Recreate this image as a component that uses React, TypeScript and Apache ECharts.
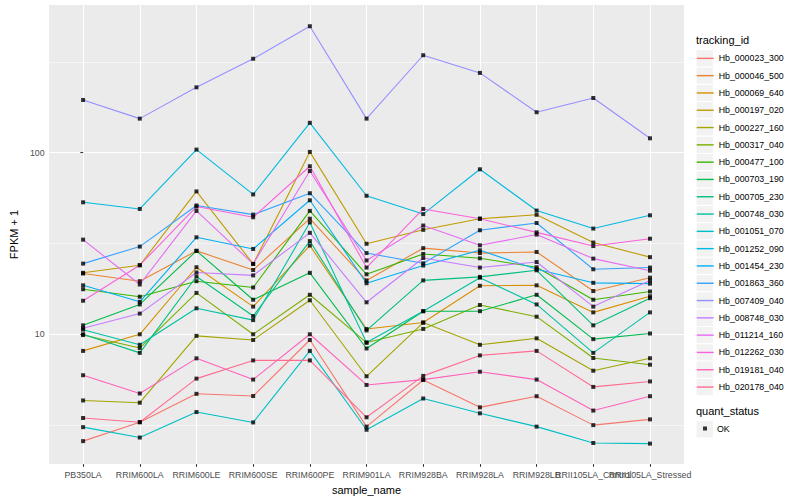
import React, { useEffect, useRef } from "react";
import * as echarts from "echarts";

const categories = [
  "PB350LA",
  "RRIM600LA",
  "RRIM600LE",
  "RRIM600SE",
  "RRIM600PE",
  "RRIM901LA",
  "RRIM928BA",
  "RRIM928LA",
  "RRIM928LB",
  "RRII105LA_Control",
  "RRII105LA_Stressed",
];

const seriesNames = [
  "Hb_000023_300",
  "Hb_000046_500",
  "Hb_000069_640",
  "Hb_000197_020",
  "Hb_000227_160",
  "Hb_000317_040",
  "Hb_000477_100",
  "Hb_000703_190",
  "Hb_000705_230",
  "Hb_000748_030",
  "Hb_001051_070",
  "Hb_001252_090",
  "Hb_001454_230",
  "Hb_001863_360",
  "Hb_007409_040",
  "Hb_008748_030",
  "Hb_011214_160",
  "Hb_012262_030",
  "Hb_019181_040",
  "Hb_020178_040",
];

const seriesColors = [
  "#F8766D", "#EA8331", "#D89000", "#C09B00", "#A3A500",
  "#7CAE00", "#39B600", "#00BB4E", "#00BF7D", "#00C1A3",
  "#00BFC4", "#00BAE0", "#00B0F6", "#35A2FF", "#9590FF",
  "#C77CFF", "#E76BF3", "#FA62DB", "#FF62BC", "#FF6C91",
];

// FPKM + 1 values, one array per tracking_id, in category order
const hb000023_300 = [2.58, 3.28, 4.7, 4.57, 9.3, 3.1, 5.6, 3.96, 4.56, 3.16, 3.4];
const hb000046_500 = [21.6, 19.6, 28.8, 22.6, 43.3, 19.8, 29.8, 28, 28.4, 17.3, 20.5];
const hb000069_640 = [8.1, 10.0, 23.4, 14.2, 30.8, 10.7, 11.6, 18.5, 18.6, 13.2, 16.2];
const hb000197_020 = [21.8, 24.0, 61.2, 24.4, 101, 31.5, 37.6, 43.3, 45.5, 32, 26.6];
const hb000227_160 = [4.32, 4.2, 9.8, 9.3, 15.4, 5.87, 11.6, 8.75, 9.5, 6.3, 7.38];
const hb000317_040 = [9.9, 8.4, 16.9, 10.0, 16.5, 9.0, 10.7, 14.5, 12.5, 7.4, 6.8];
const hb000477_100 = [17.7, 16.1, 19.6, 18.1, 47.8, 21.4, 27.7, 26.2, 23.4, 15.5, 17.2];
const hb000703_190 = [11.2, 14.6, 28.8, 15.5, 21.8, 8.35, 13.4, 13.4, 16.5, 9.4, 10.1];
const hb000705_230 = [10.0, 7.9, 20.8, 12.6, 32.6, 10.5, 19.8, 20.7, 22.5, 11.2, 15.8];
const hb000748_030 = [10.6, 8.75, 13.9, 11.97, 41.3, 9.0, 13.4, 20.5, 14.6, 7.9, 13.2];
const hb001051_070 = [3.08, 2.7, 3.73, 3.27, 8.1, 2.98, 4.43, 3.67, 3.1, 2.52, 2.5];
const hb001252_090 = [53.3, 49, 104, 58.9, 146, 57.9, 45.9, 81, 48, 38.2, 45.2];
const hb001454_230 = [18.6, 15.1, 34.2, 29.5, 54.7, 19.1, 23.9, 29, 22.8, 19.2, 19.0];
const hb001863_360 = [24.5, 30.4, 51.2, 45.6, 59.8, 28.0, 24.6, 37.4, 41, 22.8, 23.3];
const hb007409_040 = [195, 154, 229, 329, 497, 154, 344, 275, 167, 200, 120];
const hb008748_030 = [10.8, 13.0, 21.9, 21.1, 36.2, 15.0, 26.3, 23.3, 25, 14.2, 19.8];
const hb011214_160 = [33.2, 18.8, 47.8, 24.4, 79.3, 25.5, 39.7, 30.9, 35.4, 26.1, 22.4];
const hb012262_030 = [15.3, 24.0, 50.5, 44.1, 84.2, 23.3, 49, 43.3, 36.4, 30.6, 33.6];
const hb019181_040 = [5.95, 4.72, 7.37, 5.63, 10.0, 5.26, 5.63, 6.22, 5.63, 3.8, 4.56];
const hb020178_040 = [3.46, 3.28, 5.7, 7.18, 7.18, 3.49, 5.9, 7.65, 8.1, 5.13, 5.5];

const seriesValues = [
  hb000023_300, hb000046_500, hb000069_640, hb000197_020, hb000227_160,
  hb000317_040, hb000477_100, hb000703_190, hb000705_230, hb000748_030,
  hb001051_070, hb001252_090, hb001454_230, hb001863_360, hb007409_040,
  hb008748_030, hb011214_160, hb012262_030, hb019181_040, hb020178_040,
];

const yMajorTicks = [10, 100];
const yMinorBreaks = [3.1623, 31.623, 316.23];
const yRange = [1.928, 650.5];
const quantStatus = ["OK"];

const FONT = '"Liberation Sans", Arial, Helvetica, sans-serif';

export default function App() {
  const ref = useRef<HTMLDivElement>(null);
  useEffect(() => {
    const chart = echarts.init(ref.current!, null, { renderer: "svg" });
    const lg = (v: number) => Math.log10(v);
    const catIdx = categories.map((_, i) => i);
    // labels split over two axes so overlapping neighbours are both kept, as in the reference
    const labelsA = catIdx.filter((i) => i % 2 === 0 || i < 9);
    const labelsB = catIdx.filter((i) => !labelsA.includes(i));

    const lineSeries = seriesNames.map((name, i) => ({
      name,
      type: "line",
      data: seriesValues[i].map((v, j) => [j, lg(v)]),
      showSymbol: false,
      symbol: "circle",
      color: seriesColors[i],
      lineStyle: { width: 1.1, color: seriesColors[i] },
      itemStyle: { color: seriesColors[i] },
      z: 2,
      silent: true,
    }));

    const okPoints = seriesValues.flatMap((vals) => vals.map((v, j) => [j, lg(v)]));

    const keyBoxes: any[] = [];
    const boxTop = 49.7;
    const step = 17.3;
    for (let i = 0; i < seriesNames.length; i++) {
      keyBoxes.push({
        type: "rect",
        shape: { x: 696, y: boxTop + i * step, width: 17.3, height: 17.3 },
        style: { fill: "#F2F2F2", stroke: "#FFFFFF", lineWidth: 1 },
        z: 0,
        silent: true,
      });
    }
    keyBoxes.push({
      type: "rect",
      shape: { x: 696, y: 420.7, width: 17.3, height: 17.3 },
      style: { fill: "#F2F2F2", stroke: "#FFFFFF", lineWidth: 1 },
      z: 0,
      silent: true,
    });

    const iconH = 17.3;
    const iconBox = iconH * 0.8;

    const xLabelStyle = {
      formatter: (v: number) => categories[Math.round(v)],
      color: "#4D4D4D",
      fontSize: 8.8,
      margin: 6,
      fontFamily: FONT,
      hideOverlap: false,
      showMinLabel: true,
      showMaxLabel: true,
    };

    chart.setOption({
      animation: false,
      backgroundColor: "#FFFFFF",
      textStyle: { fontFamily: FONT },
      title: [
        {
          text: "tracking_id",
          left: 696,
          top: 34,
          padding: 0,
          textStyle: { fontSize: 11, fontWeight: "normal", color: "#000", fontFamily: FONT },
        },
        {
          text: "quant_status",
          left: 696,
          top: 405,
          padding: 0,
          textStyle: { fontSize: 11, fontWeight: "normal", color: "#000", fontFamily: FONT },
        },
      ],
      graphic: { elements: keyBoxes },
      legend: [
        {
          data: seriesNames,
          orient: "vertical",
          left: 696,
          top: boxTop + step / 2 - iconBox / 2,
          padding: 0,
          itemWidth: 17,
          itemHeight: iconH,
          itemGap: step - iconBox,
          selectedMode: false,
          itemStyle: { opacity: 0 },
          lineStyle: { width: 1.4 },
          textStyle: { fontSize: 8.8, color: "#000", fontFamily: FONT },
        },
        {
          data: quantStatus,
          orient: "vertical",
          left: 703,
          top: 424,
          padding: 0,
          itemWidth: 4,
          itemHeight: 4,
          icon: "rect",
          selectedMode: false,
          textStyle: { fontSize: 8.8, color: "#000", fontFamily: FONT, padding: [0, 0, 0, 5] },
        },
      ],
      grid: {
        left: 40,
        top: 5,
        width: 644,
        height: 463.3,
        show: true,
        backgroundColor: "#EBEBEB",
        borderWidth: 0,
      },
      xAxis: [
        {
          type: "value",
          min: -0.6,
          max: 10.6,
          axisLine: { show: false },
          axisTick: {
            show: true,
            customValues: catIdx,
            length: 2.75,
            lineStyle: { color: "#333333", width: 1.07 },
          },
          axisLabel: { ...xLabelStyle, customValues: labelsA },
          splitLine: { show: true, lineStyle: { color: "#FFFFFF", width: 1.07 } },
          name: "sample_name",
          nameLocation: "middle",
          nameGap: 11,
          nameTextStyle: { fontSize: 11, color: "#000", fontFamily: FONT },
        },
        {
          type: "value",
          position: "bottom",
          min: -0.6,
          max: 10.6,
          axisLine: { show: false },
          axisTick: { show: false, customValues: labelsB },
          axisLabel: { ...xLabelStyle, customValues: labelsB },
          splitLine: { show: false },
        },
      ],
      yAxis: [
        {
          type: "value",
          min: lg(yRange[0]),
          max: lg(yRange[1]),
          axisLine: { show: false },
          axisTick: {
            show: true,
            customValues: yMajorTicks.map(lg),
            length: 2.75,
            lineStyle: { color: "#333333", width: 1.07 },
          },
          axisLabel: {
            customValues: yMajorTicks.map(lg),
            formatter: (v: number) => String(Math.round(Math.pow(10, v))),
            color: "#4D4D4D",
            fontSize: 8.8,
            margin: 4.5,
            fontFamily: FONT,
          },
          splitLine: { show: true, lineStyle: { color: "#FFFFFF", width: 1.07 } },
          name: "FPKM + 1",
          nameLocation: "middle",
          nameGap: 28,
          nameTextStyle: { fontSize: 11, color: "#000", fontFamily: FONT },
        },
        {
          type: "value",
          position: "right",
          min: lg(yRange[0]),
          max: lg(yRange[1]),
          axisLine: { show: false },
          axisTick: { show: false, customValues: yMinorBreaks.map(lg) },
          axisLabel: { show: false },
          splitLine: { show: true, lineStyle: { color: "#FFFFFF", width: 0.55 } },
        },
      ],
      series: [
        ...lineSeries,
        {
          name: "OK",
          type: "scatter",
          data: okPoints,
          symbol: "rect",
          symbolSize: 4,
          itemStyle: { color: "#000000" },
          z: 5,
          silent: true,
        },
      ],
    });
    return () => chart.dispose();
  }, []);
  return (
    <div
      ref={ref}
      style={{ position: "fixed", left: 0, top: 0, width: 800, height: 500 }}
    />
  );
}
